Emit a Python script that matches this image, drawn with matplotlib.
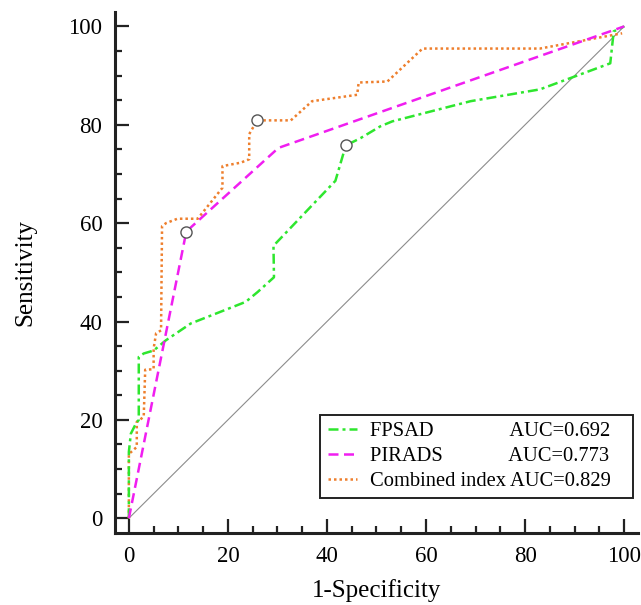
from __future__ import annotations

import matplotlib

matplotlib.use("Agg")
import matplotlib.pyplot as plt
from matplotlib.patches import Rectangle
from matplotlib.ticker import MultipleLocator

# ROC curve points (1-specificity %, sensitivity %)
FPSAD_X = [0, 0, 0.4, 1.4, 2.0, 2.0, 3.0, 5.0, 7.5, 12.5, 23.6, 26.0, 29.3, 29.2, 41.7, 43.8,
           46.8, 50.8, 53.2, 69.0, 83.0, 97.2, 97.9, 100]
FPSAD_Y = [0, 13.5, 17.2, 19.2, 20.0, 32.8, 33.5, 34.1, 36.2, 39.6, 44.0, 46.0, 49.0, 55.4, 68.6, 75.8,
           77.3, 79.7, 80.7, 84.8, 87.2, 92.5, 99.0, 100]

PIRADS_X = [0, 11.6, 30.2, 100]
PIRADS_Y = [0, 58.3, 75.3, 100]

COMBINED_X = [0, 0, 0.5, 1.6, 1.6, 3.0, 3.3, 5.0, 5.0, 5.5, 6.5, 6.7, 7.5, 9.8, 13.9, 18.9, 18.9,
              22.6, 24.3, 24.3, 25.9, 32.7, 37.0, 46.1, 46.4, 52.2, 59.3, 83.0, 99.6]
COMBINED_Y = [0, 13.1, 13.5, 14.5, 19.6, 20.6, 30.2, 30.3, 34.5, 37.6, 38.2, 59.4, 60.0, 60.9, 60.9, 67.2,
              71.6, 72.3, 73.0, 78.1, 80.9, 80.9, 84.8, 86.1, 88.6, 88.8, 95.5, 95.5, 98.6]

# optimal cut-off points (open circles)
CUTOFF_X = [43.8, 11.6, 25.9]
CUTOFF_Y = [75.8, 58.3, 80.9]

LABELS = ["FPSAD", "PIRADS", "Combined index"]
AUCS = ["0.692", "0.773", "0.829"]
PADS = [15, 13, 1]

GREEN = "#2EE62E"
MAGENTA = "#F01EF0"
ORANGE = "#EE7F2D"


def setup_style() -> None:
    plt.rcParams["font.family"] = ["Liberation Serif", "DejaVu Serif"]


def generate(out_path: str) -> None:
    fig = plt.figure(figsize=(6.41, 6.05), dpi=100)
    ax = fig.add_axes([0.1794, 0.119, 0.8159, 0.8617])

    labels = [f"{name}{' ' * pad}AUC={auc}" for name, pad, auc in zip(LABELS, PADS, AUCS)]

    ax.plot([0, 100], [0, 100], color="#8C8C8C", linewidth=0.8, zorder=1)
    ax.plot(FPSAD_X, FPSAD_Y, color=GREEN, linewidth=1.8, dashes=(4, 1.6, 1.2, 1.6),
            label=labels[0], zorder=3)
    ax.plot(PIRADS_X, PIRADS_Y, color=MAGENTA, linewidth=1.8, dashes=(4, 2.2),
            label=labels[1], zorder=3)
    ax.plot(COMBINED_X, COMBINED_Y, color=ORANGE, linewidth=1.8, dashes=(1.0, 1.2),
            label=labels[2], zorder=2)
    ax.plot(CUTOFF_X, CUTOFF_Y, linestyle="none", marker="o", markersize=8,
            markerfacecolor="white", markeredgecolor="#555555", markeredgewidth=1.0, zorder=4)

    ax.set_xlim(-2.8, 102.8)
    ax.set_ylim(-3.0, 103.0)
    ax.set_xticks(range(0, 101, 20))
    ax.set_yticks(range(0, 101, 20))
    ax.xaxis.set_minor_locator(MultipleLocator(5))
    ax.yaxis.set_minor_locator(MultipleLocator(5))

    for side in ["top", "right"]:
        ax.spines[side].set_visible(False)
    for side in ["left", "bottom"]:
        ax.spines[side].set_linewidth(2.2)
        ax.spines[side].set_color("#222222")

    ax.tick_params(which="major", direction="in", length=10, width=1.6, color="#222222",
                   labelsize=16.5, pad=9)
    ax.tick_params(which="minor", direction="in", length=5, width=1.6, color="#222222")

    ax.set_xlabel("1-Specificity", fontsize=18, labelpad=9)
    ax.set_ylabel("Sensitivity", fontsize=18, labelpad=23)

    # legend content without its own frame; the box is drawn separately because the
    # original leaves extra room to the right of the AUC column
    extra_px = 15
    leg = ax.legend(loc="lower right", bbox_to_anchor=(0.99 - extra_px / ax.bbox.width, 0.067),
                    borderaxespad=0, fontsize=14.8, frameon=False,
                    handlelength=1.45, handletextpad=0.6, labelspacing=0.26,
                    borderpad=0.35)
    leg.set_zorder(5)

    fig.canvas.draw()
    ext = leg.get_window_extent()
    (x0, y0), (x1, y1) = fig.transFigure.inverted().transform(
        [[ext.x0, ext.y0], [ext.x1 + extra_px, ext.y1]])
    box = Rectangle((x0, y0), x1 - x0, y1 - y0, transform=fig.transFigure,
                    facecolor="white", edgecolor="#222222", linewidth=1.4, zorder=4.5)
    ax.add_artist(box)
    box.set_clip_on(False)

    fig.savefig(out_path, dpi=100)


def main() -> int:
    setup_style()
    generate("out.png")
    return 0


if __name__ == "__main__":
    raise SystemExit(main())
